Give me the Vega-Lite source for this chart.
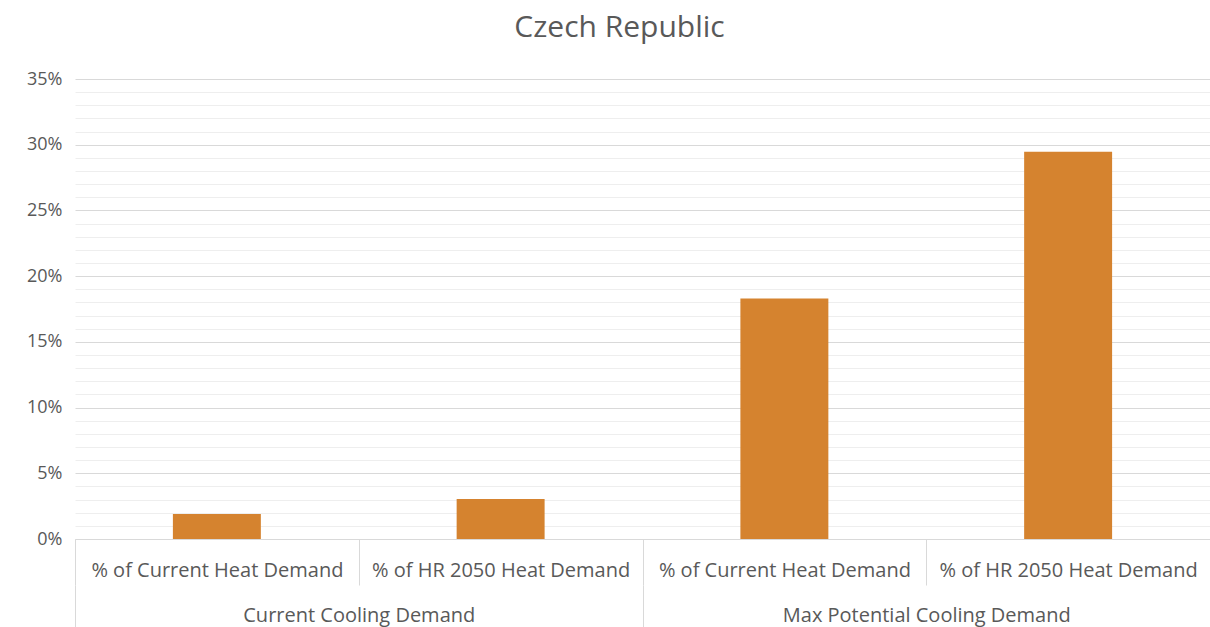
{
  "$schema": "https://vega.github.io/schema/vega-lite/v6.json",
  "autosize": "none",
  "width": 1135,
  "height": 460,
  "padding": {"left": 75, "top": 79, "right": 0, "bottom": 88},
  "background": "white",
  "title": {
    "text": "Czech Republic",
    "fontSize": 30,
    "font": "Open Sans",
    "fontWeight": "normal",
    "color": "#595959",
    "anchor": "middle",
    "dx": -23,
    "offset": 27
  },
  "config": {
    "view": {"stroke": null},
    "font": "Open Sans"
  },
  "data": {
    "values": [
      {"group": "Current Cooling Demand", "metric": "% of Current Heat Demand", "key": "Current Cooling Demand|% of Current Heat Demand", "value": 0.019},
      {"group": "Current Cooling Demand", "metric": "% of HR 2050 Heat Demand", "key": "Current Cooling Demand|% of HR 2050 Heat Demand", "value": 0.0304},
      {"group": "Max Potential Cooling Demand", "metric": "% of Current Heat Demand", "key": "Max Potential Cooling Demand|% of Current Heat Demand", "value": 0.183},
      {"group": "Max Potential Cooling Demand", "metric": "% of HR 2050 Heat Demand", "key": "Max Potential Cooling Demand|% of HR 2050 Heat Demand", "value": 0.2947}
    ]
  },
  "resolve": {"scale": {"x": "independent"}, "axis": {"y": "independent"}},
  "layer": [
    {
      "mark": {"type": "rule", "opacity": 0},
      "encoding": {
        "y": {
          "field": "value", "type": "quantitative",
          "scale": {"domain": [0, 0.35], "nice": false, "zero": true},
          "axis": {
            "orient": "left",
            "values": [0.01,0.02,0.03,0.04,0.06,0.07,0.08,0.09,0.11,0.12,0.13,0.14,0.16,0.17,0.18,0.19,0.21,0.22,0.23,0.24,0.26,0.27,0.28,0.29,0.31,0.32,0.33,0.34],
            "grid": true, "gridColor": "#eeeeee", "gridWidth": 1,
            "labels": false, "ticks": false, "domain": false, "title": null
          }
        }
      }
    },
    {
      "mark": {"type": "bar", "width": {"band": 0.31}, "color": "#D5832F"},
      "encoding": {
        "x": {
          "field": "key", "type": "nominal", "sort": null,
          "scale": {"paddingInner": 0, "paddingOuter": 0},
          "axis": {
            "title": null,
            "labelAngle": 0,
            "labelExpr": "split(datum.label, '|')[1]",
            "labelFontSize": 20,
            "labelLimit": 0,
            "labelColor": "#595959",
            "labelPadding": -25,
            "tickBand": "extent",
            "tickSize": 46,
            "tickColor": "#d9d9d9",
            "domainColor": "#d9d9d9",
            "grid": false
          }
        },
        "y": {
          "field": "value", "type": "quantitative",
          "scale": {"domain": [0, 0.35], "nice": false, "zero": true},
          "axis": {
            "orient": "left",
            "values": [0, 0.05, 0.1, 0.15, 0.2, 0.25, 0.3, 0.35],
            "format": ".0%",
            "grid": true, "gridColor": "#d9d9d9", "gridWidth": 1,
            "ticks": false, "domain": false, "title": null,
            "labelFontSize": 18, "labelColor": "#595959", "labelPadding": 13
          }
        }
      }
    },
    {
      "mark": {"type": "rule", "opacity": 0},
      "encoding": {
        "x": {
          "field": "group", "type": "nominal", "sort": null,
          "scale": {"type": "band", "paddingInner": 0, "paddingOuter": 0},
          "axis": {
            "orient": "bottom",
            "offset": 46,
            "title": null,
            "labelAngle": 0,
            "labelFontSize": 20,
            "labelLimit": 0,
            "labelColor": "#595959",
            "labelPadding": -22,
            "tickBand": "extent",
            "tickSize": 42,
            "tickColor": "#d9d9d9",
            "domain": false,
            "grid": false
          }
        }
      }
    }
  ]
}
